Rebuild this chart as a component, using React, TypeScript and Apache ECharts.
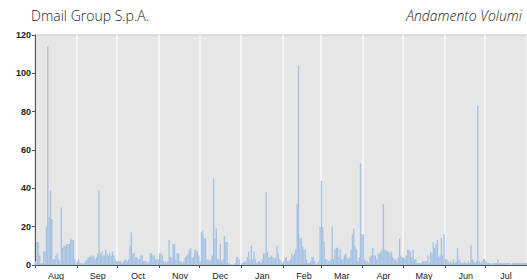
import React, { useEffect, useRef } from "react";
import * as echarts from "echarts";

const TITLE_LEFT = "Dmail Group S.p.A.";
const TITLE_RIGHT = "Andamento Volumi";
const MONTHS = ["Aug", "Sep", "Oct", "Nov", "Dec", "Jan", "Feb", "Mar", "Apr", "May", "Jun", "Jul"];
const Y_TICKS = [0, 20, 40, 60, 80, 100, 120];

const aug = [2, 12, 12, 5, 1, 1, 7, 7, 20, 114, 25, 39, 24, 3, 3, 5, 6, 3, 2, 30, 9, 10, 10, 11, 11, 11, 14, 13, 13, 3, 1];
const sep = [2, 3, 1, 1, 0, 1, 2, 3, 4, 4, 5, 4, 5, 3, 4, 6, 39, 6, 7, 5, 5, 8, 6, 5, 6, 5, 7, 5, 3, 2];
const oct = [2, 2, 2, 1, 2, 3, 3, 2, 3, 10, 17, 6, 6, 4, 4, 3, 3, 5, 5, 2, 2, 2, 1, 2, 6, 6, 5, 5, 3, 3, 3];
const nov = [6, 6, 5, 2, 2, 1, 2, 13, 4, 4, 11, 11, 3, 6, 6, 2, 2, 1, 2, 4, 5, 6, 8, 9, 4, 4, 8, 8, 7, 5];
const dec = [2, 17, 18, 14, 14, 3, 3, 2, 3, 5, 45, 14, 19, 3, 3, 11, 2, 3, 15, 12, 12, 1, 0, 0, 0, 0, 1, 4, 4, 3, 0];
const jan = [1, 1, 2, 2, 4, 7, 3, 10, 3, 7, 3, 1, 2, 2, 1, 3, 6, 6, 38, 7, 4, 4, 5, 4, 3, 4, 10, 6, 3, 2, 1];
const feb = [2, 4, 4, 2, 2, 3, 6, 5, 6, 8, 32, 104, 14, 14, 10, 8, 8, 3, 1, 1, 2, 4, 4, 2, 0, 1, 2, 20];
const mar = [44, 20, 12, 3, 3, 2, 2, 3, 20, 3, 8, 9, 9, 4, 8, 3, 3, 5, 6, 4, 3, 4, 8, 16, 19, 10, 8, 2, 4, 53, 16];
const apr = [16, 3, 2, 2, 1, 4, 5, 9, 5, 5, 3, 6, 6, 7, 8, 32, 8, 8, 7, 7, 6, 7, 4, 3, 3, 2, 4, 14, 5, 4];
const may = [4, 3, 5, 8, 8, 7, 4, 8, 3, 3, 1, 1, 1, 1, 2, 2, 2, 2, 5, 1, 7, 6, 12, 9, 11, 13, 4, 5, 14, 5, 16];
const jun = [3, 3, 2, 1, 2, 1, 3, 1, 2, 9, 3, 2, 1, 1, 2, 1, 1, 2, 1, 10, 3, 2, 1, 2, 83, 2, 1, 2, 3, 3];
const jul = [2, 1, 1, 1, 0, 1, 1, 1, 1, 3, 1, 1, 1, 1, 1, 1, 1, 1, 1, 0, 1, 1, 1, 1, 1, 1, 1, 1, 1, 1, 1];

const MONTH_VALUES = [aug, sep, oct, nov, dec, jan, feb, mar, apr, may, jun, jul];

export default function App() {
  const ref = useRef<HTMLDivElement>(null);

  useEffect(() => {
    if (!ref.current) return;
    const chart = echarts.init(ref.current, null, { renderer: "svg" });

    const categories: string[] = [];
    const values: number[] = [];
    MONTH_VALUES.forEach((arr, mi) => {
      arr.forEach((v, di) => {
        categories.push(MONTHS[mi] + " " + (di + 1));
        values.push(v);
      });
    });
    const dayOf = (c: string) => parseInt(c.split(" ")[1], 10);

    chart.setOption({
      animation: false,
      backgroundColor: "#ffffff",
      graphic: [
        {
          type: "text",
          left: 31,
          top: 8,
          style: {
            text: TITLE_LEFT,
            fontSize: 14,
            fontFamily: "Open Sans",
            fontWeight: 300,
            fill: "#222",
          },
        },
        {
          type: "text",
          right: 5,
          top: 8,
          style: {
            text: TITLE_RIGHT,
            fontSize: 14,
            fontFamily: "Open Sans",
            fontStyle: "italic",
            fontWeight: 300,
            fill: "#222",
          },
        },
      ],
      grid: {
        left: 35,
        right: 0,
        top: 35,
        bottom: 11,
        show: true,
        backgroundColor: "#e6e6e6",
        borderColor: "#c4c4c4",
        borderWidth: 1,
      },
      xAxis: {
        type: "category",
        data: categories,
        boundaryGap: true,
        axisLine: { show: true, lineStyle: { color: "#555", width: 1 } },
        axisTick: {
          show: true,
          length: 3,
          interval: (i: number, v: string) => dayOf(v) === 1,
          lineStyle: { color: "#555" },
        },
        splitLine: {
          show: true,
          interval: (i: number, v: string) => i > 0 && dayOf(v) === 1,
          lineStyle: { color: "#fafafa", width: 1.5 },
        },
        axisLabel: {
          interval: (i: number, v: string) => dayOf(v) === 16,
          formatter: (v: string) => v.split(" ")[0],
          fontSize: 9,
          fontFamily: "Liberation Sans",
          color: "#222",
          margin: 6,
        },
      },
      yAxis: {
        type: "value",
        min: Y_TICKS[0],
        max: Y_TICKS[Y_TICKS.length - 1],
        interval: 20,
        axisLine: { show: true, lineStyle: { color: "#555", width: 1 } },
        axisTick: { show: true, length: 3, lineStyle: { color: "#555" } },
        splitLine: { show: false },
        axisLabel: {
          fontSize: 9,
          fontWeight: "bold",
          fontFamily: "Liberation Sans",
          color: "#222",
          margin: 4,
        },
      },
      series: [
        {
          type: "bar",
          data: values,
          barCategoryGap: "0%",
          itemStyle: { color: "#a6c2e3" },
        },
      ],
    });

    return () => chart.dispose();
  }, []);

  return (
    <div
      ref={ref}
      style={{ position: "fixed", left: 0, top: 0, width: 527, height: 280 }}
    />
  );
}
